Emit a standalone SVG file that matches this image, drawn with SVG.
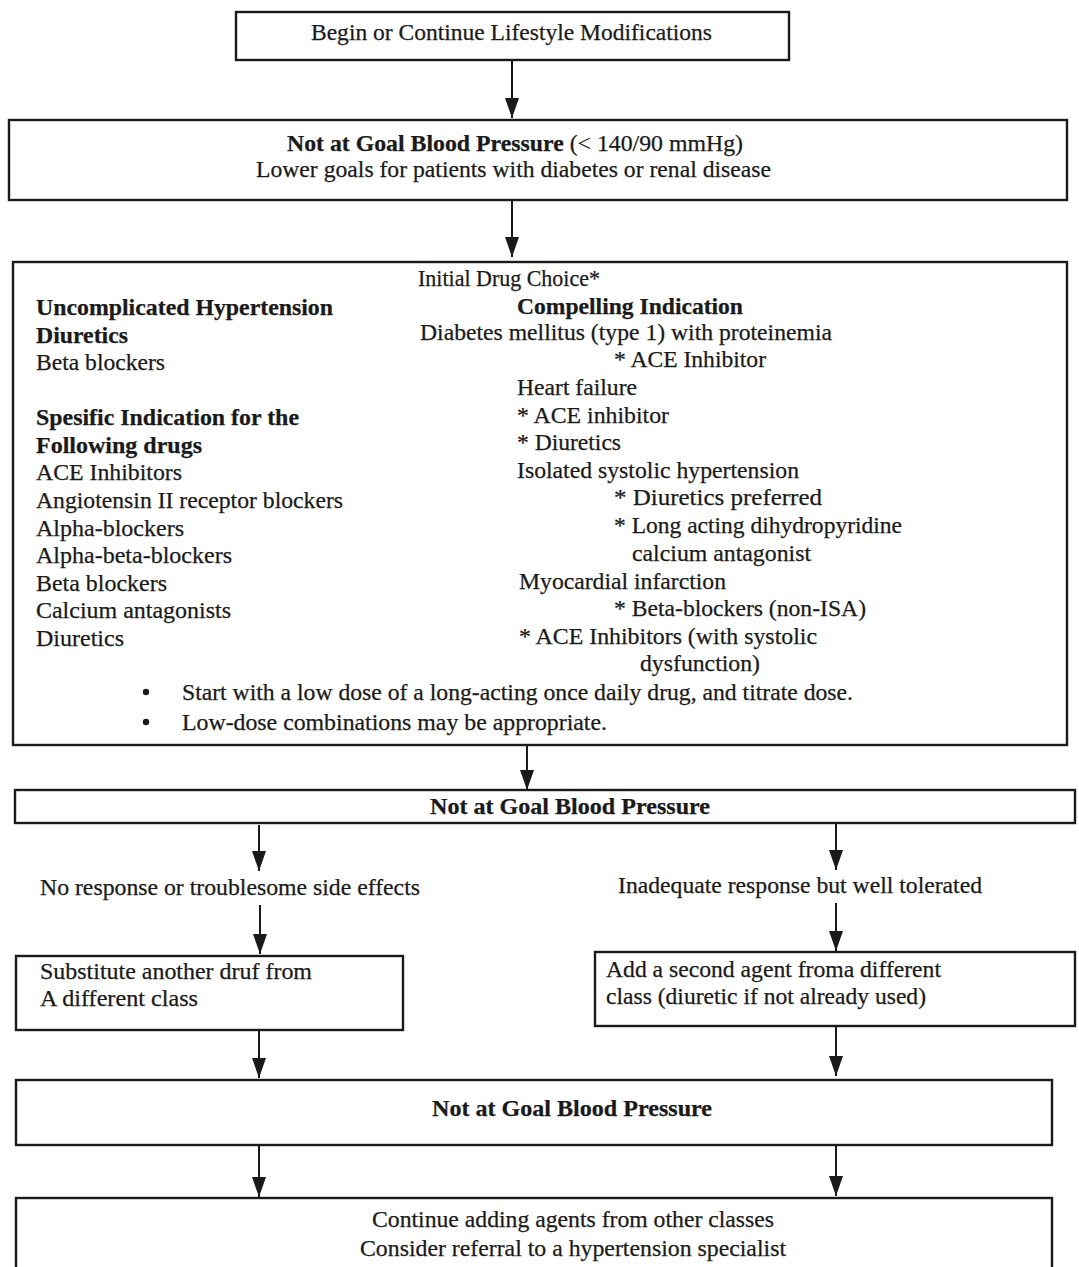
<svg xmlns="http://www.w3.org/2000/svg" width="1079" height="1267" viewBox="0 0 1079 1267">
  <style>
    .box { fill: #ffffff; stroke: #1a1a1a; stroke-width: 2.4; }
    .t { font-family: "Liberation Serif", "Times New Roman", serif; font-size: 23px; fill: #1a1a1a; stroke: #1a1a1a; stroke-width: 0.25; }
    .s { font-size: 23px; }
    .b { font-weight: bold; }
    .edge { stroke: #1a1a1a; stroke-width: 2; fill: none; marker-end: url(#arrow); }
  </style>
  <defs>
    <marker id="arrow" markerUnits="userSpaceOnUse" markerWidth="20" markerHeight="14" refX="20" refY="7" orient="auto" viewBox="0 0 20 14">
      <path d="M0,0 L20,7 L0,14 Z" fill="#1a1a1a"/>
    </marker>
  </defs>
  <rect width="1079" height="1267" fill="#ffffff"/>

  <!-- connectors -->
  <g id="connectors">
    <line class="edge" x1="512" y1="61" x2="512" y2="118"/>
    <line class="edge" x1="512" y1="201" x2="512" y2="257"/>
    <line class="edge" x1="527" y1="746" x2="527" y2="790"/>
    <line class="edge" x1="259" y1="825" x2="259" y2="871"/>
    <line class="edge" x1="836" y1="824" x2="836" y2="870"/>
    <line class="edge" x1="260" y1="905" x2="260" y2="954"/>
    <line class="edge" x1="836" y1="903" x2="836" y2="951"/>
    <line class="edge" x1="259" y1="1031" x2="259" y2="1078"/>
    <line class="edge" x1="836" y1="1027" x2="836" y2="1076"/>
    <line class="edge" x1="259" y1="1146" x2="259" y2="1197"/>
    <line class="edge" x1="836" y1="1146" x2="836" y2="1196"/>
  </g>

  <g id="lifestyle">
    <rect class="box" x="236" y="12" width="553" height="48"/>
    <text class="t s" x="311" y="40" textLength="401" lengthAdjust="spacingAndGlyphs">Begin or Continue Lifestyle Modifications</text>
  </g>

  <g id="goal-bp-1">
    <rect class="box" x="9" y="120" width="1058" height="80"/>
    <text class="t s" x="287" y="151" textLength="456" lengthAdjust="spacingAndGlyphs"><tspan class="b">Not at Goal Blood Pressure</tspan> (&lt; 140/90 mmHg)</text>
    <text class="t s" x="256" y="177" textLength="515" lengthAdjust="spacingAndGlyphs">Lower goals for patients with diabetes or renal disease</text>
  </g>

  <g id="initial-drug-choice">
    <rect class="box" x="13" y="262" width="1054" height="483"/>
    <text class="t" x="418" y="286" textLength="182" lengthAdjust="spacingAndGlyphs">Initial Drug Choice*</text>
    <!-- left column -->
    <text class="t b" x="36" y="315" textLength="297" lengthAdjust="spacingAndGlyphs">Uncomplicated Hypertension</text>
    <text class="t b" x="36" y="343" textLength="92" lengthAdjust="spacingAndGlyphs">Diuretics</text>
    <text class="t" x="36" y="370" textLength="129" lengthAdjust="spacingAndGlyphs">Beta blockers</text>
    <text class="t b" x="36" y="425" textLength="263" lengthAdjust="spacingAndGlyphs">Spesific Indication for the</text>
    <text class="t b" x="36" y="453" textLength="166" lengthAdjust="spacingAndGlyphs">Following drugs</text>
    <text class="t" x="36" y="480" textLength="146" lengthAdjust="spacingAndGlyphs">ACE Inhibitors</text>
    <text class="t" x="36" y="508" textLength="307" lengthAdjust="spacingAndGlyphs">Angiotensin II receptor blockers</text>
    <text class="t" x="36" y="536" textLength="148" lengthAdjust="spacingAndGlyphs">Alpha-blockers</text>
    <text class="t" x="36" y="563" textLength="196" lengthAdjust="spacingAndGlyphs">Alpha-beta-blockers</text>
    <text class="t" x="36" y="591" textLength="131" lengthAdjust="spacingAndGlyphs">Beta blockers</text>
    <text class="t" x="36" y="618" textLength="195" lengthAdjust="spacingAndGlyphs">Calcium antagonists</text>
    <text class="t" x="36" y="646" textLength="88" lengthAdjust="spacingAndGlyphs">Diuretics</text>
    <!-- right column -->
    <text class="t b" x="517" y="314" textLength="226" lengthAdjust="spacingAndGlyphs">Compelling Indication</text>
    <text class="t" x="420" y="340" textLength="412" lengthAdjust="spacingAndGlyphs">Diabetes mellitus (type 1) with proteinemia</text>
    <text class="t" x="614" y="367" textLength="152" lengthAdjust="spacingAndGlyphs">* ACE Inhibitor</text>
    <text class="t" x="517" y="395" textLength="120" lengthAdjust="spacingAndGlyphs">Heart failure</text>
    <text class="t" x="517" y="423" textLength="152" lengthAdjust="spacingAndGlyphs">* ACE inhibitor</text>
    <text class="t" x="517" y="450" textLength="104" lengthAdjust="spacingAndGlyphs">* Diuretics</text>
    <text class="t" x="517" y="478" textLength="282" lengthAdjust="spacingAndGlyphs">Isolated systolic hypertension</text>
    <text class="t" x="614" y="505" textLength="208" lengthAdjust="spacingAndGlyphs">* Diuretics preferred</text>
    <text class="t" x="614" y="533" textLength="288" lengthAdjust="spacingAndGlyphs">* Long acting dihydropyridine</text>
    <text class="t" x="632" y="561" textLength="179" lengthAdjust="spacingAndGlyphs">calcium antagonist</text>
    <text class="t" x="519" y="589" textLength="207" lengthAdjust="spacingAndGlyphs">Myocardial infarction</text>
    <text class="t" x="614" y="616" textLength="252" lengthAdjust="spacingAndGlyphs">* Beta-blockers (non-ISA)</text>
    <text class="t" x="519" y="644" textLength="298" lengthAdjust="spacingAndGlyphs">* ACE Inhibitors (with systolic</text>
    <text class="t" x="640" y="671" textLength="120" lengthAdjust="spacingAndGlyphs">dysfunction)</text>
    <!-- notes -->
    <circle cx="146" cy="692" r="3.2" fill="#1a1a1a"/>
    <text class="t" x="182" y="700" textLength="671" lengthAdjust="spacingAndGlyphs">Start with a low dose of a long-acting once daily drug, and titrate dose.</text>
    <circle cx="146" cy="722" r="3.2" fill="#1a1a1a"/>
    <text class="t" x="182" y="730" textLength="425" lengthAdjust="spacingAndGlyphs">Low-dose combinations may be appropriate.</text>
  </g>

  <g id="goal-bp-2">
    <rect class="box" x="15" y="790" width="1060" height="33"/>
    <text class="t s b" x="430" y="814" textLength="280" lengthAdjust="spacingAndGlyphs">Not at Goal Blood Pressure</text>
  </g>

  <g id="no-response">
    <text class="t s" x="40" y="895" textLength="380" lengthAdjust="spacingAndGlyphs">No response or troublesome side effects</text>
  </g>

  <g id="inadequate-response">
    <text class="t s" x="618" y="893" textLength="364" lengthAdjust="spacingAndGlyphs">Inadequate response but well tolerated</text>
  </g>

  <g id="substitute">
    <rect class="box" x="16" y="956" width="387" height="74"/>
    <text class="t s" x="40" y="979" textLength="272" lengthAdjust="spacingAndGlyphs">Substitute another druf from</text>
    <text class="t s" x="40" y="1006" textLength="158" lengthAdjust="spacingAndGlyphs">A different class</text>
  </g>

  <g id="add-second-agent">
    <rect class="box" x="595" y="952" width="480" height="74"/>
    <text class="t s" x="606" y="977" textLength="335" lengthAdjust="spacingAndGlyphs">Add a second agent froma different</text>
    <text class="t s" x="606" y="1004" textLength="320" lengthAdjust="spacingAndGlyphs">class (diuretic if not already used)</text>
  </g>

  <g id="goal-bp-3">
    <rect class="box" x="16" y="1080" width="1036" height="65"/>
    <text class="t s b" x="432" y="1116" textLength="280" lengthAdjust="spacingAndGlyphs">Not at Goal Blood Pressure</text>
  </g>

  <g id="continue-adding">
    <rect class="box" x="16" y="1198" width="1036" height="80"/>
    <text class="t s" x="372" y="1227" textLength="402" lengthAdjust="spacingAndGlyphs">Continue adding agents from other classes</text>
    <text class="t s" x="360" y="1256" textLength="426" lengthAdjust="spacingAndGlyphs">Consider referral to a hypertension specialist</text>
  </g>
</svg>
